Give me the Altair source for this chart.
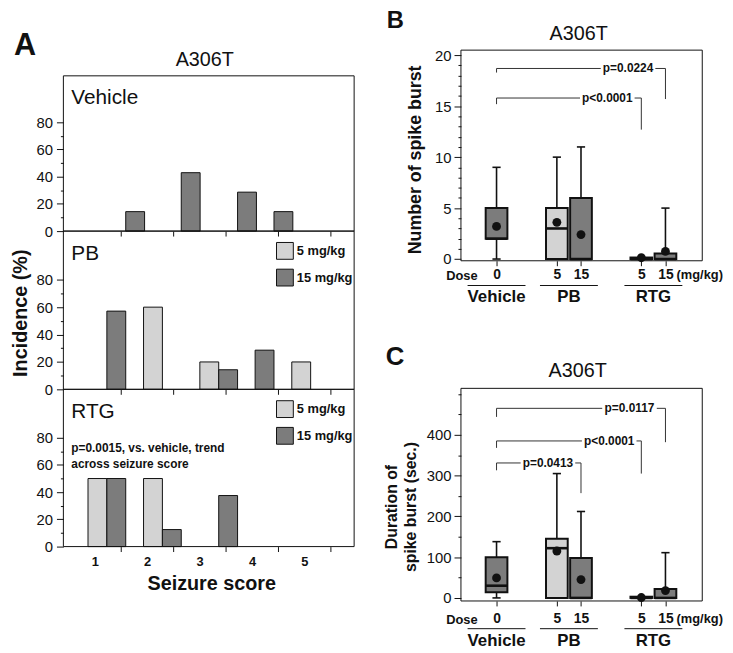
import altair as alt
import pandas as pd

# ---------------- data ----------------
seizure_scores = [1, 2, 3, 4, 5]
vehicle_incidence = [14.3, 42.9, 28.6, 14.3, 0]
pb_5mg_incidence = [0, 60.0, 20.0, 0, 20.0]
pb_15mg_incidence = [57.1, 0, 14.3, 28.6, 0]
rtg_5mg_incidence = [50.0, 50.0, 0, 0, 0]
rtg_15mg_incidence = [50.0, 12.5, 37.5, 0, 0]

box_groups = ["Vehicle", "PB", "PB", "RTG", "RTG"]
box_doses = ["0", "5", "15", "5", "15"]

spike_min = [0, 0, 0, 0, 0]
spike_q1 = [2, 0, 0, 0, 0]
spike_median = [2, 3, 0, 0, 0]
spike_q3 = [5, 5, 6, 0.15, 0.55]
spike_max = [9, 10, 11, 0.15, 5]
spike_mean = [3.2, 3.6, 2.4, 0.13, 0.75]

dur_min = [0, 0, 0, 0, 0]
dur_q1 = [14, 0, 0, 0, 0]
dur_median = [30, 122, 0, 0, 0]
dur_q3 = [100, 145, 98, 3, 22]
dur_max = [138, 305, 212, 3, 111]
dur_mean = [49, 115, 45, 1, 18]

spike_p_text = ["p=0.0224", "p<0.0001"]
spike_p_target = [4, 3]
spike_p_line = [18.7, 15.8]
spike_p_left_end = [18.3, 15.2]
spike_p_right_end = [15.7, 12.7]
spike_p_label_pos = [6.45, 5.59]

dur_p_text = ["p=0.0117", "p<0.0001", "p=0.0413"]
dur_p_target = [4, 3, 2]
dur_p_line = [465, 385, 331]
dur_p_left_end = [444, 368, 313]
dur_p_right_end = [382, 305, 257]
dur_p_label_pos = [6.51, 5.67, 3.13]

# ---------------- layout / style ----------------
W, H = 725, 645


def px(v):
    """page pixel -> chart pixel (page has an 8px margin)"""
    return v - 8


FONT = "Liberation Sans, Arial, Helvetica, sans-serif"
LIGHT = "#d3d3d3"
DARK = "#7c7c7c"
INK = "#111111"


def tick_axis(orient, offset, values, size, labels=True, **kw):
    return alt.Axis(orient=orient, offset=offset, values=values, tickSize=size, tickWidth=1,
                    labels=labels, domain=False, grid=False, title=None,
                    labelColor=INK, tickColor=INK, labelOverlap=False, **kw)


def axis_carrier(xscale, xdom, xaxis, yscale, ydom, yaxis):
    """invisible mark that carries the axes of a panel on the panel's own scales"""
    return alt.Chart(pd.DataFrame({"x": [xdom[0]], "y": [ydom[0]]})).mark_point(opacity=0).encode(
        x=alt.X("x:Q", scale=xscale, axis=xaxis),
        y=alt.Y("y:Q", scale=yscale, axis=yaxis))


def minor_ticks(yscale, values, x_left):
    """invisible mark that carries a second (minor-tick) y axis on the same scale"""
    return alt.Chart(pd.DataFrame({"v": [values[0]]})).mark_point(opacity=0).encode(
        x=alt.value(0),
        y=alt.Y("v:Q", scale=yscale, axis=tick_axis("left", -px(x_left), values, 3, labels=False)))


# ---- panel A (bar histograms) ----
SLOT_W = 0.36
SLOT_START = [0.87, 1.93, 3.005, 3.70, 4.76]
SLOT_OF = {"5 mg/kg": 0, "15 mg/kg": 1, "Vehicle": 2}
XA_DOMAIN = [0.4, 5.95]
XA = alt.Scale(domain=XA_DOMAIN, range=[px(64), px(358)], nice=False, zero=False)


def bar_frame(series):
    rows = []
    for name, values in series:
        for s, v in zip(seizure_scores, values):
            if v > 0:
                x0 = SLOT_START[s - 1] + SLOT_OF[name] * SLOT_W
                rows.append({"score": s, "dose": name, "pct": v,
                             "x0": x0, "x1": x0 + SLOT_W, "base": 0})
    return pd.DataFrame(rows)


def a_panel(series, ymax, y_bottom, y_top, legend_top=None, tick_labels=False):
    ydom = [0, ymax]
    ys = alt.Scale(domain=ydom, range=[px(y_bottom), px(y_top)], nice=False, zero=False)
    xaxis = tick_axis("bottom", px(y_bottom) - H, [1.5, 2.5, 3.5, 4.5, 5.5], 5,
                      labels=tick_labels, labelExpr="'' + (datum.value - 0.5)", labelOffset=-26.5,
                      labelFont=FONT, labelFontWeight="bold", labelFontSize=13, labelPadding=4)
    yaxis = tick_axis("left", -px(64), [0, 20, 40, 60, 80], 7,
                      labelFont=FONT, labelFontSize=15, labelPadding=4)
    df = bar_frame(series)
    if legend_top is not None:
        color = alt.Color("dose:N",
                          scale=alt.Scale(domain=["5 mg/kg", "15 mg/kg"], range=[LIGHT, DARK]),
                          legend=alt.Legend(orient="none", legendX=px(279), legendY=px(legend_top),
                                            title=None, symbolType="square", symbolSize=289,
                                            symbolStrokeColor=INK, symbolStrokeWidth=1,
                                            labelFont=FONT, labelFontWeight="bold",
                                            labelFontSize=13, labelColor=INK,
                                            rowPadding=5, labelOffset=3, padding=0))
    else:
        color = alt.value(DARK)
    bars = alt.Chart(df).mark_bar(stroke=INK, strokeWidth=1, opacity=1).encode(
        x=alt.X("x0:Q", scale=XA, axis=None), x2="x1:Q",
        y=alt.Y("pct:Q", scale=ys, axis=None), y2="base:Q", color=color)
    frame = alt.Chart(pd.DataFrame({"x0": [XA_DOMAIN[0]], "x1": [XA_DOMAIN[1]],
                                    "y0": [0], "y1": [ymax]})).mark_rect(
        fill="white", fillOpacity=0, stroke=INK, strokeWidth=1).encode(
        x=alt.X("x0:Q", scale=XA, axis=None), x2="x1:Q",
        y=alt.Y("y0:Q", scale=ys, axis=None), y2="y1:Q")
    return [alt.layer(bars, frame),
            axis_carrier(XA, XA_DOMAIN, xaxis, ys, ydom, yaxis),
            minor_ticks(ys, [10, 30, 50, 70], 64)]


# ---- panels B and C (box plots) ----
BOX_POS = [1, 3.5, 4.5, 7, 8]
XB_DOMAIN = [-0.475, 9.525]
XB = alt.Scale(domain=XB_DOMAIN, range=[px(466), px(710)], nice=False, zero=False)
PX_PER_UNIT = (710 - 466) / (XB_DOMAIN[1] - XB_DOMAIN[0])


def box_panel(mins, q1s, meds, q3s, maxs, means, ydom, y_bottom, y_top,
              major_vals, minor_vals, tests, label_pad, underline_y, group_y):
    ys = alt.Scale(domain=ydom, range=[px(y_bottom), px(y_top)], nice=False, zero=False)
    df = pd.DataFrame({"pos": BOX_POS, "dose": box_doses, "group": box_groups,
                       "lo": mins, "q1": q1s, "med": meds, "q3": q3s, "hi": maxs, "mean": means})
    df["left"] = df["pos"] - 0.45
    df["right"] = df["pos"] + 0.45
    df["cl"] = df["pos"] - 0.17
    df["cr"] = df["pos"] + 0.17
    up = df[df.hi > df.q3]
    down = df[df.q1 > df.lo]

    label_expr = " : ".join(f"datum.value == {p} ? '{d}'" for p, d in zip(BOX_POS, box_doses)) + " : ''"
    xaxis = tick_axis("bottom", px(y_bottom) - H, BOX_POS, 5, labelExpr=label_expr,
                      labelFont=FONT, labelFontWeight="bold", labelFontSize=14,
                      labelPadding=label_pad, labelFlush=False)
    yaxis = tick_axis("left", -px(466), major_vals, 7, labelFont=FONT, labelFontSize=15, labelPadding=3)

    def X(f):
        return alt.X(f, scale=XB, axis=None)

    def Y(f):
        return alt.Y(f, scale=ys, axis=None)

    w_up = alt.Chart(up).mark_rule(color=INK, strokeWidth=1.6).encode(x=X("pos:Q"), y=Y("q3:Q"), y2="hi:Q")
    w_dn = alt.Chart(down).mark_rule(color=INK, strokeWidth=1.6).encode(x=X("pos:Q"), y=Y("lo:Q"), y2="q1:Q")
    c_up = alt.Chart(up).mark_rule(color=INK, strokeWidth=1.6).encode(x=X("cl:Q"), x2="cr:Q", y=Y("hi:Q"))
    c_dn = alt.Chart(down).mark_rule(color=INK, strokeWidth=1.6).encode(x=X("cl:Q"), x2="cr:Q", y=Y("lo:Q"))
    box = alt.Chart(df).mark_bar(stroke=INK, strokeWidth=2, opacity=1).encode(
        x=X("left:Q"), x2="right:Q", y=Y("q1:Q"), y2="q3:Q",
        color=alt.Color("dose:N", scale=alt.Scale(domain=["0", "5", "15"], range=[DARK, LIGHT, DARK]), legend=None))
    med = alt.Chart(df).mark_rule(color=INK, strokeWidth=2.6).encode(x=X("left:Q"), x2="right:Q", y=Y("med:Q"))
    mean = alt.Chart(df).mark_circle(size=80, color=INK, opacity=1).encode(x=X("pos:Q"), y=Y("mean:Q"))

    segs, labels = [], []
    for text, tgt, yl, yel, yer, lp in tests:
        xl, xr = BOX_POS[0], BOX_POS[tgt]
        half = (len(text) * 6.4 / 2 + 2) / PX_PER_UNIT
        segs += [
            {"a": xl, "b": xl, "y": yel, "y2": yl},
            {"a": xl, "b": lp - half, "y": yl, "y2": yl},
            {"a": lp + half, "b": xr, "y": yl, "y2": yl},
            {"a": xr, "b": xr, "y": yl, "y2": yer},
        ]
        labels.append({"t": text, "x": lp, "y": yl})
    br = alt.Chart(pd.DataFrame(segs)).mark_rule(color="#333333", strokeWidth=1).encode(
        x=X("a:Q"), x2="b:Q", y=Y("y:Q"), y2="y2:Q")
    bt = alt.Chart(pd.DataFrame(labels)).mark_text(
        font=FONT, fontWeight="bold", fontSize=12, baseline="middle", align="center", color=INK).encode(
        x=X("x:Q"), y=Y("y:Q"), text="t:N")

    gnames = ["Vehicle", "PB", "RTG"]
    centers = [sum(p for p, g in zip(BOX_POS, box_groups) if g == n) / box_groups.count(n) for n in gnames]
    gdf = pd.DataFrame({"group": gnames, "c": centers,
                        "a": [c - 1.2 for c in centers], "b": [c + 1.2 for c in centers]})
    ul = alt.Chart(gdf).mark_rule(color=INK, strokeWidth=1).encode(
        x=X("a:Q"), x2="b:Q", y=alt.value(px(underline_y)))
    gl = alt.Chart(gdf).mark_text(font=FONT, fontWeight="bold", fontSize=17,
                                  baseline="alphabetic", align="center", color=INK).encode(
        x=X("c:Q"), y=alt.value(px(group_y)), text="group:N")

    frame = alt.Chart(pd.DataFrame({"x0": [XB_DOMAIN[0]], "x1": [XB_DOMAIN[1]],
                                    "y0": [ydom[0]], "y1": [ydom[1]]})).mark_rect(
        fill="white", fillOpacity=0, stroke=INK, strokeWidth=1).encode(
        x=X("x0:Q"), x2="x1:Q", y=Y("y0:Q"), y2="y1:Q")
    return [alt.layer(w_up, w_dn, c_up, c_dn, box, med, mean, br, bt, ul, gl, frame),
            axis_carrier(XB, XB_DOMAIN, xaxis, ys, ydom, yaxis),
            minor_ticks(ys, minor_vals, 466)]


def note(text, x, y, size, weight="normal", align="left", angle=0, baseline="alphabetic"):
    return alt.Chart(pd.DataFrame({"t": [text]})).mark_text(
        font=FONT, fontSize=size, fontWeight=weight, align=align, baseline=baseline,
        angle=angle, color=INK).encode(x=alt.value(px(x)), y=alt.value(px(y)), text="t:N")


layers = []
layers += a_panel([("Vehicle", vehicle_incidence)], 114, 230, 73)
layers += a_panel([("5 mg/kg", pb_5mg_incidence), ("15 mg/kg", pb_15mg_incidence)], 115.5, 390, 230,
                  legend_top=241)
layers += a_panel([("5 mg/kg", rtg_5mg_incidence), ("15 mg/kg", rtg_15mg_incidence)], 115.5, 549, 390,
                  legend_top=401, tick_labels=True)
layers += box_panel(spike_min, spike_q1, spike_median, spike_q3, spike_max, spike_mean,
                    [-0.17, 20.5], 260, 47, [0, 5, 10, 15, 20],
                    [v for v in range(0, 21) if v % 5 != 0],
                    list(zip(spike_p_text, spike_p_target, spike_p_line, spike_p_left_end,
                             spike_p_right_end, spike_p_label_pos)),
                    2, 285, 302)
layers += box_panel(dur_min, dur_q1, dur_median, dur_q3, dur_max, dur_mean,
                    [-7.5, 514], 604, 389, [0, 100, 200, 300, 400],
                    [50, 150, 250, 350, 450, 500],
                    list(zip(dur_p_text, dur_p_target, dur_p_line, dur_p_left_end,
                             dur_p_right_end, dur_p_label_pos)),
                    6, 632, 650)
layers += [
    # panel letters and titles
    note("A", 14, 52, 31, "bold"),
    note("A306T", 207, 63, 20, align="center"),
    note("B", 391, 25, 24, "bold"),
    note("A306T", 585, 37, 20, align="center"),
    note("C", 390, 365, 26, "bold"),
    note("A306T", 584, 378, 20, align="center"),
    # panel A texts
    note("Vehicle", 72, 101, 21),
    note("PB", 72, 259, 21),
    note("RTG", 72, 419, 21),
    note("p=0.0015, vs. vehicle, trend", 72, 453, 12, "bold"),
    note("across seizure score", 72, 470, 12, "bold"),
    note("Incidence (%)", 21, 313, 20, "bold", align="center", angle=270, baseline="middle"),
    note("Seizure score", 214, 593, 20, "bold", align="center"),
    # panel B / C axis texts
    note("Number of spike burst", 421, 158, 18, "bold", align="center", angle=270, baseline="middle"),
    note("Duration of", 396, 509, 16, "bold", align="center", angle=270, baseline="middle"),
    note("spike burst (sec.)", 416, 509, 16, "bold", align="center", angle=270, baseline="middle"),
    note("Dose", 467, 279, 13, "bold", align="center"),
    note("(mg/kg)", 684, 278, 13, "bold"),
    note("Dose", 467, 627, 13, "bold", align="center"),
    note("(mg/kg)", 684, 626, 13, "bold"),
]

chart = (
    alt.layer(*layers)
    .resolve_scale(x="independent", y="independent", color="independent")
    .resolve_axis(x="independent", y="independent")
    .resolve_legend(color="independent")
    .properties(width=W, height=H, padding=0, autosize=alt.AutoSizeParams(type="none"))
    .configure_view(stroke=None)
)

chart.save("out.html", embed_options={"renderer": "svg", "actions": False})
